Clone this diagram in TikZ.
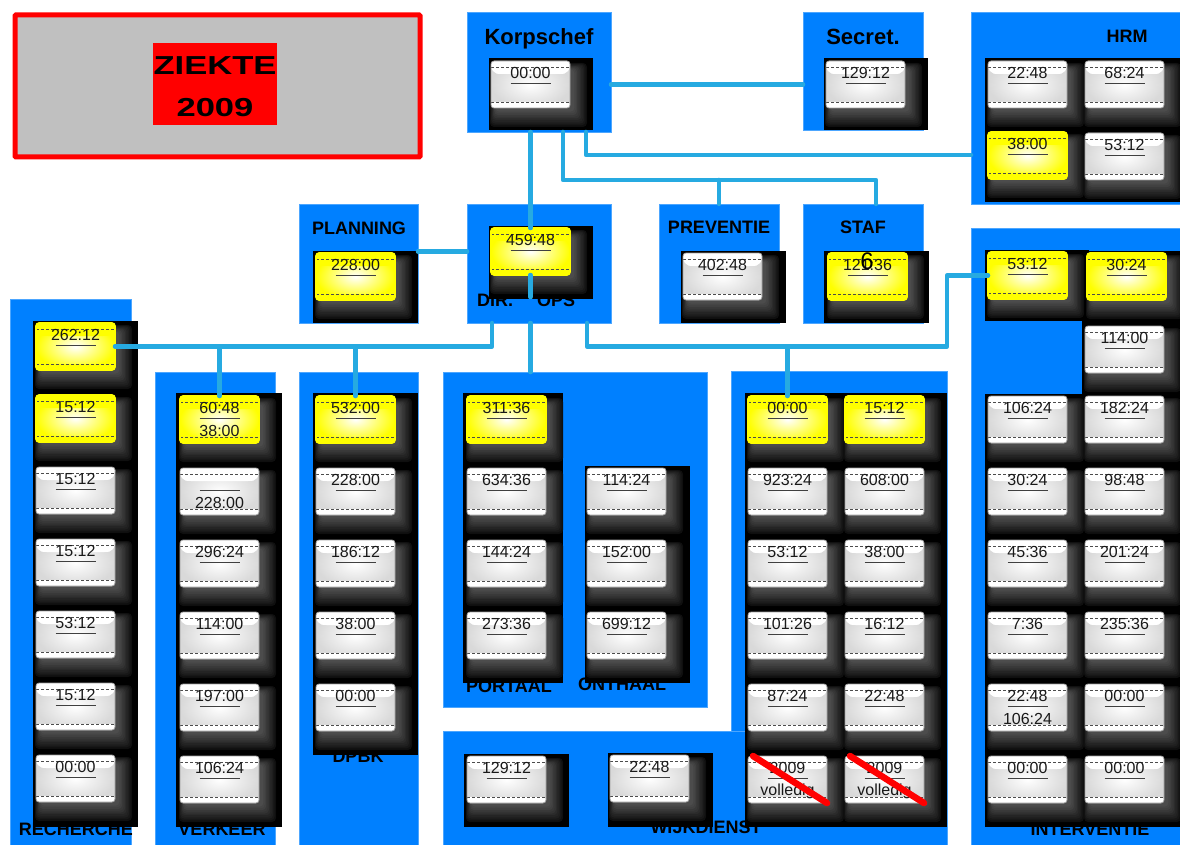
\documentclass[tikz,border=0pt]{standalone}
\usepackage{fontspec}
\usepackage{graphicx}
\setmainfont{Liberation Sans}
\usetikzlibrary{calc}
\definecolor{bblue}{RGB}{0,128,255}
\definecolor{lineblue}{RGB}{38,170,225}
\definecolor{zgray}{RGB}{192,192,192}
\definecolor{cyell}{RGB}{255,255,0}

\newcommand\cardpp[1]{%
  \path (path picture bounding box.north west) coordinate (NW)
        (path picture bounding box.north east) coordinate (NE)
        (path picture bounding box.south west) coordinate (SW)
        (path picture bounding box.south east) coordinate (SE);
  \fill[#1] (NW) -- (NE) -- ([yshift=-8pt]NE) .. controls ([xshift=-5pt,yshift=-13pt]NE) .. ([xshift=-16pt,yshift=-13pt]NE)
     -- ([xshift=16pt,yshift=-13pt]NW) .. controls ([xshift=5pt,yshift=-13pt]NW) .. ([yshift=-8pt]NW) -- cycle;
  \fill[#1] (SW) rectangle ([yshift=6pt]SE);
  \draw[black!70, densely dashed, line width=0.5pt] ([yshift=-6pt]NW) -- ([yshift=-6pt]NE);
  \draw[black!70, densely dashed, line width=0.5pt] ([yshift=6pt]SW) -- ([yshift=6pt]SE);
}
\newcommand\Halo[2]{%
  \foreach \k in {0,...,9}{%
    \pgfmathtruncatemacro\hc{94-2.6*\k}%
    \fill[black!\hc, rounded corners=4pt] (#1-1+0.6*\k,#2+2+0.7*\k) rectangle (#1+96-1.4*\k,#2+66-1.7*\k);
  }%
}
\newcommand\Card[5]{%
  \Halo{#2}{#3}
  \node[#4, anchor=north west] (#1) at (#2,#3) {};
  \node[num] (#1t) at ([yshift=-12pt]#1.north) {#5};
  \draw[uline] ([xshift=-20pt,yshift=-22pt]#1.north) -- ([xshift=20pt,yshift=-22pt]#1.north);
}
\newcommand\CardTwo[6]{%
  \Card{#1}{#2}{#3}{#4}{#5}
  \node[num] (#1u) at ([yshift=-35pt]#1.north) {#6};
}
\newcommand\BB[5]{\node[bbox, anchor=north west, minimum width={(#4-#2)*1pt}, minimum height={(#5-#3)*1pt}] (#1) at (#2,#3) {};}
\newcommand\BK[4]{\fill[black] (#1,#2) rectangle (#3,#4);}

\tikzset{
 card/.style={rectangle, rounded corners=3pt, minimum width=79pt, minimum height=47pt, inner sep=0pt, outer sep=0pt},
 gcard/.style={card, draw=gray!75, line width=0.8pt, inner color=white, outer color=gray!30, path picture={\cardpp{white}}},
 ycard/.style={card, draw=cyell, line width=1.6pt, inner color=white, outer color=cyell, path picture={\cardpp{cyell}}},
 num/.style={inner sep=0pt, font=\fontsize{16}{18}\selectfont, text=black!90},
 uline/.style={draw=black!75, line width=0.9pt},
 lab/.style={inner sep=0pt, anchor=base, font=\bfseries\fontsize{18}{20}\selectfont},
 biglab/.style={inner sep=0pt, anchor=base, font=\bfseries\fontsize{22}{24}\selectfont},
 bbox/.style={rectangle, fill=bblue, draw=bblue!70!white, line width=0.6pt, inner sep=0pt, outer sep=0pt},
 conn/.style={draw=lineblue, line width=4.5pt, line cap=round, line join=round},
 cross/.style={draw=red, line width=6.5pt, line cap=round},
}

\begin{document}
\begin{tikzpicture}[x=1pt,y=-1pt]
\useasboundingbox (0,0) rectangle (1180,845);
\fill[white] (0,0) rectangle (1180,845);

% title
\node[draw=red, line width=5pt, fill=zgray, rounded corners=1pt, anchor=north west, minimum width=405pt, minimum height=142pt, inner sep=0pt] (title) at (12.5,12.5) {};
\node[fill=red, anchor=north west, minimum width=124pt, minimum height=82pt, inner sep=0pt] (zbox) at (153,43) {};
\node[inner sep=0pt, anchor=base, font=\bfseries\fontsize{26}{28}\selectfont] (z1) at (215,75) {\scalebox{1.33}[1]{ZIEKTE}};
\node[inner sep=0pt, anchor=base, font=\bfseries\fontsize{26}{28}\selectfont] (z2) at (215,117) {\scalebox{1.33}[1]{2009}};

% blue boxes
\BB{kbox}{467}{12}{611}{132}
\BB{sbox}{803}{12}{923}{130}
\BB{hbox}{971}{12}{1180}{204}
\BB{plbox}{299}{204}{418}{323}
\BB{dbox}{467}{204}{611}{323}
\BB{pvbox}{659}{204}{779}{323}
\BB{stbox}{803}{204}{923}{323}
\BB{rbox}{10}{299}{131}{845}
\BB{vbox}{155}{372}{275}{845}
\BB{dpbox}{299}{372}{418}{845}
\BB{pbox}{443}{372}{707}{707}
\BB{wbox}{731}{371}{947}{845}
\BB{wbbox}{443}{731}{947}{845}
\BB{ibox}{971}{228}{1180}{845}

% labels
\node[biglab] (lk) at (539,44.5) {Korpschef};
\node[biglab] (ls) at (863,44.5) {Secret.};
\node[lab] (lh) at (1127,42.5) {HRM};
\node[lab] (lpl) at (359,234) {PLANNING};
\node[lab] (lpv) at (719,233.5) {PREVENTIE};
\node[lab] (lst) at (863,233.5) {STAF};
\node[lab] (ldir) at (495,306) {DIR.};
\node[lab] (lops) at (556,306) {OPS};
\node[lab] (lr) at (76,835) {RECHERCHE};
\node[lab] (lv) at (222,835) {VERKEER};
\node[lab] (ldp) at (358,762) {DPBK};
\node[lab] (lp) at (509,692) {PORTAAL};
\node[lab] (lo) at (622,690) {ONTHAAL};
\node[lab] (lw) at (706,833) {WIJKDIENST};
\node[lab] (li) at (1090,835) {INTERVENTIE};

% black blocks
\BK{489}{58}{593}{130}
\BK{824}{58}{928}{130}
\BK{985}{58}{1180}{202}
\BK{313}{251}{418}{323}
\BK{489}{226}{593}{299}
\BK{681}{251}{786}{323}
\BK{824}{251}{929}{323}
\BK{33}{321}{138}{827}
\BK{176}{393}{282}{827}
\BK{313}{393}{418}{755}
\BK{463}{393}{563}{683}
\BK{585}{466}{690}{683}
\BK{745}{393}{947}{827}
\BK{464}{754}{569}{827}
\BK{608}{753}{713}{827}
\BK{985}{250}{1089}{321}
\BK{1082}{251}{1180}{827}
\BK{985}{394}{1180}{827}

% cards
\Card{kc}{491}{61}{gcard}{00:00}
\Card{sc}{826}{61}{gcard}{129:12}
\Card{h1}{988}{61}{gcard}{22:48}
\Card{h2}{1085}{61}{gcard}{68:24}
\Card{h3}{988}{132}{ycard}{38:00}
\Card{h4}{1085}{133}{gcard}{53:12}
\Card{plc}{316}{253}{ycard}{228:00}
\Card{dc}{491}{228}{ycard}{459:48}
\Card{pvc}{683}{253}{gcard}{402:48}
\Card{stc}{828}{253}{ycard}{121:36}
\node[inner sep=0pt, font=\fontsize{24}{26}\selectfont] (six) at (867,261) {6};

\Card{r1}{36}{323}{ycard}{262:12}
\Card{r2}{36}{395}{ycard}{15:12}
\Card{r3}{36}{467}{gcard}{15:12}
\Card{r4}{36}{539}{gcard}{15:12}
\Card{r5}{36}{611}{gcard}{53:12}
\Card{r6}{36}{683}{gcard}{15:12}
\Card{r7}{36}{755}{gcard}{00:00}

\CardTwo{v1}{180}{396}{ycard}{60:48}{38:00}
\CardTwo{v2}{180}{468}{gcard}{}{228:00}
\Card{v3}{180}{540}{gcard}{296:24}
\Card{v4}{180}{612}{gcard}{114:00}
\Card{v5}{180}{684}{gcard}{197:00}
\Card{v6}{180}{756}{gcard}{106:24}

\Card{dp1}{316}{396}{ycard}{532:00}
\Card{dp2}{316}{468}{gcard}{228:00}
\Card{dp3}{316}{540}{gcard}{186:12}
\Card{dp4}{316}{612}{gcard}{38:00}
\Card{dp5}{316}{684}{gcard}{00:00}

\Card{p1}{467}{396}{ycard}{311:36}
\Card{p2}{467}{468}{gcard}{634:36}
\Card{p3}{467}{540}{gcard}{144:24}
\Card{p4}{467}{612}{gcard}{273:36}
\Card{o1}{587}{468}{gcard}{114:24}
\Card{o2}{587}{540}{gcard}{152:00}
\Card{o3}{587}{612}{gcard}{699:12}

\Card{w1}{748}{396}{ycard}{00:00}
\Card{w2}{845}{396}{ycard}{15:12}
\Card{w3}{748}{468}{gcard}{923:24}
\Card{w4}{845}{468}{gcard}{608:00}
\Card{w5}{748}{540}{gcard}{53:12}
\Card{w6}{845}{540}{gcard}{38:00}
\Card{w7}{748}{612}{gcard}{101:26}
\Card{w8}{845}{612}{gcard}{16:12}
\Card{w9}{748}{684}{gcard}{87:24}
\Card{w10}{845}{684}{gcard}{22:48}
\CardTwo{w11}{748}{756}{gcard}{2009}{volledig}
\CardTwo{w12}{845}{756}{gcard}{2009}{volledig}
\Card{wb1}{467}{756}{gcard}{129:12}
\Card{wb2}{610}{755}{gcard}{22:48}

\Card{i1}{988}{252}{ycard}{53:12}
\Card{i2}{1087}{253}{ycard}{30:24}
\Card{i3}{1085}{326}{gcard}{114:00}
\Card{i4}{988}{396}{gcard}{106:24}
\Card{i5}{1085}{396}{gcard}{182:24}
\Card{i6}{988}{468}{gcard}{30:24}
\Card{i7}{1085}{468}{gcard}{98:48}
\Card{i8}{988}{540}{gcard}{45:36}
\Card{i9}{1085}{540}{gcard}{201:24}
\Card{i10}{988}{612}{gcard}{7:36}
\Card{i11}{1085}{612}{gcard}{235:36}
\CardTwo{i12}{988}{684}{gcard}{22:48}{106:24}
\Card{i13}{1085}{684}{gcard}{00:00}
\Card{i14}{988}{756}{gcard}{00:00}
\Card{i15}{1085}{756}{gcard}{00:00}

% connectors
\draw[conn] (kbox.east |- kc.east) -- (sbox.west |- kc.east);
\draw[conn] ([xshift=47pt]kbox.south) |- ([yshift=-47pt]hbox.west);
\draw[conn] ([xshift=24pt]kbox.south) -- ++(0,48) -| ([xshift=13pt]stbox.north);
\draw[conn] (pvbox.north) -- ++(0,-24);
\draw[conn] (dc.north |- kbox.south) -- (dc.north);
\draw[conn] ([yshift=12pt]plbox.east) -- ([yshift=12pt]dbox.west);
\draw[conn] (dc.south) -- ++(0,22);
\draw[conn] (dc.south |- dbox.south) -- (dc.south |- pbox.north);
\draw[conn] ([xshift=-47pt]dbox.south) |- (r1.east);
\draw[conn] (v1.north) -- (v1.north |- r1.east);
\draw[conn] (dp1.north) -- (dp1.north |- r1.east);
\draw[conn] ([xshift=48pt]dbox.south) |- (wbox.east |- r1.east) |- (i1.west);
\draw[conn] (w1.north) -- (w1.north |- r1.east);

% crosses
\draw[cross] ([xshift=5pt]w11.north west) -- (w11.south east);
\draw[cross] ([xshift=5pt]w12.north west) -- (w12.south east);
\end{tikzpicture}
\end{document}
